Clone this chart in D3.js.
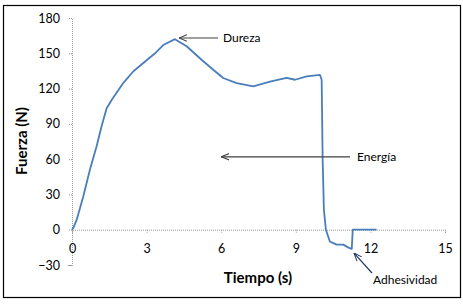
<!DOCTYPE html>
<html>
<head>
<meta charset="utf-8">
<script src="https://cdn.jsdelivr.net/npm/d3@7"></script>
<style>
  body { margin: 0; background: #fff; }
  svg text { font-family: Lato, "Open Sans", sans-serif; }
</style>
</head>
<body>
<div id="chart"></div>
<script>
// Texture profile: time (s) vs force (N)
const tiempo = [0, 0.05, 0.19, 0.45, 0.72, 0.99, 1.19, 1.39, 1.6, 2.06, 2.46, 2.94, 3.34, 3.67, 4.14,
  4.61, 5.21, 5.68, 6.08, 6.62, 7.29, 7.96, 8.63, 8.97, 9.44, 9.97, 10.04, 10.08, 10.13, 10.21,
  10.37, 10.64, 10.91, 11.1, 11.25, 11.29, 11.5, 12.25];
const fuerza = [0, 1.4, 8.5, 28, 51, 71, 88, 103, 110.5, 124.7, 134.5, 143, 150, 157, 162,
  156, 144.5, 136, 129, 124.7, 121.8, 126, 129, 127.5, 130.3, 131.7, 127.5, 59.5, 17, 0,
  -10, -12.7, -12.7, -15, -16.4, 0, 0, 0];

const xTicks = [0, 3, 6, 9, 12, 15];
const yTicks = [-30, 0, 30, 60, 90, 120, 150, 180];

const notas = [
  {label: "Dureza", tx: 4.3, ty: 163, lx: 6.1, ly: 163},
  {label: "Energía", tx: 6.0, ty: 62, lx: 11.2, ly: 62},
  {label: "Adhesividad", tx: 11.3, ty: -19, lx: 12.0, ly: -37}
];

const width = 463, height = 307;

const svg = d3.select("#chart").append("svg")
    .attr("width", width)
    .attr("height", height);

// outer frame
svg.append("rect")
    .attr("x", 3.5).attr("y", 5.5)
    .attr("width", 457).attr("height", 292)
    .attr("fill", "none")
    .attr("stroke", "#000")
    .attr("stroke-width", 1.2);

const x = d3.scaleLinear().domain([0, 15]).range([72, 445]);
const y = d3.scaleLinear().domain([-30, 180]).range([265, 18]);

// y axis
const yAxis = svg.append("g")
    .attr("transform", `translate(${x(0)},0)`)
    .call(d3.axisLeft(y).tickValues(yTicks).tickSize(4).tickPadding(8));

// x axis at zero
const xAxis = svg.append("g")
    .attr("transform", `translate(0,${y(0)})`)
    .call(d3.axisBottom(x).tickValues(xTicks).tickSize(4).tickPadding(10));

[yAxis, xAxis].forEach(g => {
    g.select(".domain").attr("stroke", "#999").attr("stroke-dasharray", "1,1");
    g.selectAll(".tick line").attr("stroke", "#999").attr("stroke-dasharray", "1,1");
    g.selectAll(".tick text")
        .attr("fill", "#000")
        .style("font-size", "12.5px")
        .style("font-family", "Lato, sans-serif");
});

// curve
const line = d3.line()
    .x((d, i) => x(tiempo[i]))
    .y(d => y(d));

svg.append("path")
    .datum(fuerza)
    .attr("d", line)
    .attr("fill", "none")
    .attr("stroke", "#4a7ebb")
    .attr("stroke-width", 1.8)
    .attr("stroke-linejoin", "round");

// axis titles
svg.append("text")
    .attr("x", 258).attr("y", 283)
    .attr("text-anchor", "middle")
    .style("font-size", "15px")
    .style("font-weight", "bold")
    .text("Tiempo (s)");

svg.append("text")
    .attr("transform", "translate(27,141) rotate(-90)")
    .attr("text-anchor", "middle")
    .style("font-size", "15px")
    .style("font-weight", "bold")
    .text("Fuerza (N)");

// annotations with open arrowheads
svg.append("defs").selectAll("marker")
    .data([["arrGray", "#404040"], ["arrBlue", "#1f3864"]])
    .enter().append("marker")
    .attr("id", d => d[0])
    .attr("viewBox", "0 -5 10 10")
    .attr("refX", 0).attr("refY", 0)
    .attr("markerWidth", 8).attr("markerHeight", 8)
    .attr("markerUnits", "userSpaceOnUse")
    .attr("orient", "auto")
    .append("path")
    .attr("d", "M10,-4L0,0L10,4")
    .attr("fill", "none")
    .attr("stroke", d => d[1])
    .attr("stroke-width", 1.3);

const dureza = notas[0], energia = notas[1], adh = notas[2];

svg.append("line")
    .attr("x1", x(dureza.tx)).attr("y1", y(dureza.ty))
    .attr("x2", 218).attr("y2", y(dureza.ty))
    .attr("stroke", "#404040").attr("stroke-width", 1.2)
    .attr("marker-start", "url(#arrGray)");
svg.append("text")
    .attr("x", 223).attr("y", y(dureza.ty) + 4)
    .style("font-size", "12px")
    .text(dureza.label);

svg.append("line")
    .attr("x1", x(energia.tx)).attr("y1", y(energia.ty))
    .attr("x2", 350).attr("y2", y(energia.ty))
    .attr("stroke", "#404040").attr("stroke-width", 1.2)
    .attr("marker-start", "url(#arrGray)");
svg.append("text")
    .attr("x", 357).attr("y", y(energia.ty) + 4)
    .style("font-size", "12px")
    .text(energia.label);

svg.append("line")
    .attr("x1", x(adh.tx) + 1).attr("y1", y(adh.ty) + 1)
    .attr("x2", 372).attr("y2", 273)
    .attr("stroke", "#1f3864").attr("stroke-width", 1.2)
    .attr("marker-start", "url(#arrBlue)");
svg.append("text")
    .attr("x", 373).attr("y", 284)
    .style("font-size", "12px")
    .text(adh.label);
</script>
</body>
</html>
